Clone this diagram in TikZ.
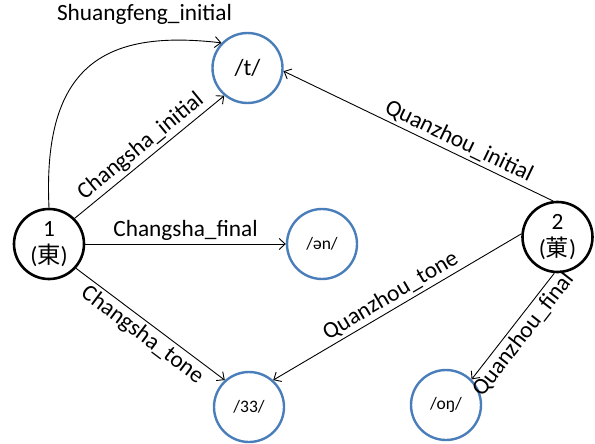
\documentclass[tikz,border=0pt]{standalone}
\usepackage{fontspec}
\setmainfont{Carlito}
\newfontfamily\cjk{Noto Sans CJK SC}
\usetikzlibrary{arrows.meta}
\definecolor{nodeblue}{RGB}{74,126,187}
\begin{document}
\begin{tikzpicture}[x=1pt,y=-1pt,
  every node/.style={font=\fontsize{23.3}{27}\selectfont},
  numnode/.style={circle,draw=black,line width=2.6pt,minimum size=70pt,inner sep=0pt,align=center},
  valnode/.style={circle,draw=nodeblue,line width=2.4pt,minimum size=70pt,inner sep=0pt},
  smalltext/.style={font=\fontsize{17.5}{21}\selectfont},
  conn/.style={line width=0.9pt,-{Straight Barb[length=6pt,width=11pt]}},
  lab/.style={inner sep=3pt}]
\useasboundingbox (0,0) rectangle (595,444);
\node[numnode] (n1) at (49,244) {1\\({\cjk 東})};
\node[numnode] (n2) at (557.5,237) {2\\({\cjk 菄})};
\node[valnode] (t) at (247.5,68) {/t/};
\node[valnode,smalltext] (en) at (322,244) {/ən/};
\node[valnode,smalltext] (s33) at (249,407) {/33/};
\node[valnode,smalltext] (on) at (446,405) {/oŋ/};
\draw[conn] (n1.north) .. controls (42,60) and (110,30) .. (t.136);
\node[anchor=base] (shlab) at (144.5,21) {Shuangfeng\_initial};
\draw[conn] (n1.45) -- node[lab,pos=0.5,sloped,above] {Changsha\_initial} (t.230);
\draw[conn] (n1.east) -- node[lab,pos=0.5,above] {Changsha\_final} (en.west);
\draw[conn] (n1.-42) -- node[lab,pos=0.5,sloped,below] {Changsha\_tone} (s33.132);
\draw[conn] (n2.97) -- node[lab,pos=0.37,sloped,above] {Quanzhou\_initial} (t.-5);
\draw[conn] (n2.175) -- node[lab,pos=0.5,sloped,above] {Quanzhou\_tone} (s33.48);
\draw[conn] (n2.265) -- node[lab,pos=0.5,sloped,below] {Quanzhou\_final} (on.45);
\end{tikzpicture}
\end{document}
